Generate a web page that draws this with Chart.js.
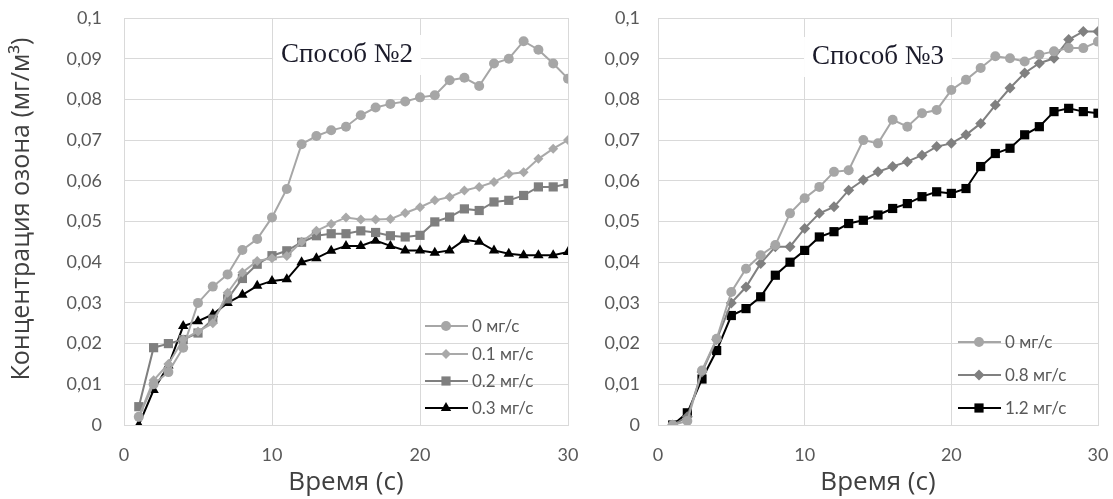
<!DOCTYPE html>
<html>
<head>
<meta charset="utf-8">
<script src="https://cdn.jsdelivr.net/npm/chart.js@4.4.1/dist/chart.umd.min.js"></script>
<style>
body{margin:0;background:#fff;}
#wrap{position:relative;width:1113px;height:499px;overflow:hidden;}
#left{position:absolute;left:0;top:0;}
#right{position:absolute;left:580px;top:0;}
</style>
</head>
<body>
<div id="wrap">
<canvas id="left" width="580" height="499"></canvas>
<canvas id="right" width="533" height="499"></canvas>
</div>
<script>
// time points (s)
const time = [1,2,3,4,5,6,7,8,9,10,11,12,13,14,15,16,17,18,19,20,21,22,23,24,25,26,27,28,29,30]

// Способ №2
const left0 = [0.002,0.010,0.013,0.019,0.030,0.034,0.037,0.043,0.0457,0.051,0.058,0.069,0.071,0.0724,0.0733,0.0761,0.078,0.0789,0.0795,0.0805,0.081,0.0847,0.0853,0.0833,0.0888,0.090,0.0943,0.0922,0.0888,0.0851]
const left1 = [0.002,0.011,0.015,0.021,0.023,0.025,0.0325,0.0375,0.0403,0.041,0.0415,0.045,0.0477,0.0494,0.051,0.0505,0.0505,0.0506,0.0521,0.0535,0.0552,0.056,0.0576,0.0585,0.0597,0.0617,0.0621,0.0654,0.0679,0.070]
const left2 = [0.0045,0.019,0.020,0.021,0.0226,0.026,0.031,0.036,0.0395,0.0416,0.0428,0.0449,0.0465,0.047,0.047,0.0477,0.0473,0.0465,0.0462,0.0466,0.0499,0.0511,0.0531,0.0527,0.0548,0.0552,0.0564,0.0585,0.0585,0.0593]
const left3 = [0,0.0086,0.0146,0.0243,0.0255,0.0272,0.030,0.032,0.0342,0.0354,0.0358,0.040,0.041,0.0428,0.044,0.044,0.0453,0.044,0.0429,0.0429,0.0423,0.0429,0.0455,0.045,0.0429,0.0421,0.0417,0.0417,0.0417,0.0425]

// Способ №3
const right0 = [0,0.001,0.0134,0.0212,0.0327,0.0384,0.0417,0.0442,0.052,0.0557,0.0585,0.0622,0.0626,0.070,0.0692,0.075,0.0733,0.0766,0.0774,0.0823,0.0848,0.0877,0.0906,0.0901,0.0893,0.091,0.0918,0.0926,0.0926,0.0942]
const right1 = [0,0.002,0.013,0.021,0.030,0.0339,0.0397,0.0438,0.0438,0.0483,0.052,0.0536,0.0577,0.0602,0.0622,0.0635,0.0647,0.0663,0.0684,0.0692,0.0713,0.0741,0.0786,0.0828,0.0865,0.0889,0.0901,0.0947,0.0967,0.0967]
const right2 = [0,0.003,0.0113,0.0183,0.0269,0.0286,0.0315,0.0368,0.040,0.0429,0.0462,0.0475,0.0495,0.0503,0.0516,0.0532,0.0544,0.0561,0.0573,0.0569,0.0581,0.0635,0.0667,0.068,0.0713,0.0733,0.077,0.0778,0.077,0.0766]

const leftLabels = ["0 мг/с", "0.1 мг/с", "0.2 мг/с", "0.3 мг/с"]
const rightLabels = ["0 мг/с", "0.8 мг/с", "1.2 мг/с"]
const panelTitles = ["Способ №2", "Способ №3"]

const xTickValues = [0, 10, 20, 30]
const yTickValues = [0, 0.01, 0.02, 0.03, 0.04, 0.05, 0.06, 0.07, 0.08, 0.09, 0.1]
const yTickLabels = ["0", "0,01", "0,02", "0,03", "0,04", "0,05", "0,06", "0,07", "0,08", "0,09", "0,1"]

const xTitle = "Время (с)"
const yTitle = "Концентрация озона (мг/м³)"

const sans = 'Lato, "Open Sans", sans-serif'
const titleSans = '"Open Sans", sans-serif'
const gridColor = "#d9d9d9"
const tickColor = "#595959"


function pts(arr){
  return time.map((t, i) => ({ x: t, y: arr[i] }))
}

function series(label, arr, color, style, radius){
  return {
    label: label,
    data: pts(arr),
    borderColor: color,
    backgroundColor: color,
    pointBackgroundColor: color,
    pointBorderColor: color,
    pointStyle: style,
    pointRadius: radius,
    pointBorderWidth: 0,
    borderWidth: 2,
    tension: 0
  }
}


// legend drawn inside the plot area (canvas coords)
const insideLegend = {
  id: "insideLegend",
  afterDraw(chart, args, opts){
    const ctx = chart.ctx
    chart.data.datasets.forEach((ds, i) => {
      const x = opts.x
      const y = opts.ys[i]
      ctx.save()
      ctx.strokeStyle = ds.borderColor
      ctx.lineWidth = 2
      ctx.beginPath()
      ctx.moveTo(x, y)
      ctx.lineTo(x + 43, y)
      ctx.stroke()
      ctx.fillStyle = ds.pointBackgroundColor
      if(Chart.helpers && Chart.helpers.drawPoint){
        Chart.helpers.drawPoint(ctx, { pointStyle: ds.pointStyle, radius: ds.pointRadius, rotation: 0, borderWidth: 0 }, x + 21, y)
      }else{
        ctx.beginPath(); ctx.arc(x + 21, y, ds.pointRadius, 0, Math.PI * 2); ctx.fill()
      }
      ctx.fillStyle = tickColor
      ctx.font = "17px " + sans
      ctx.textBaseline = "middle"
      ctx.fillText(ds.label, x + 47, y + 1)
      ctx.restore()
    })
  }
}

// "Способ" caption on a white box, plus the rotated y title
const panelText = {
  id: "panelText",
  beforeDatasetsDraw(chart, args, opts){
    const ctx = chart.ctx
    ctx.save()
    ctx.font = '27px "Liberation Serif", serif'
    const w = ctx.measureText(opts.text).width
    ctx.fillStyle = "#fff"
    ctx.fillRect(opts.cx - w / 2 - 8, opts.cy - 20, w + 16, 40)
    ctx.fillStyle = "#1b1b2a"
    ctx.textAlign = "center"
    ctx.textBaseline = "middle"
    ctx.fillText(opts.text, opts.cx, opts.cy)
    ctx.restore()
  },
  afterDraw(chart, args, opts){
    if(!opts.yTitle) return
    const ctx = chart.ctx
    ctx.save()
    ctx.translate(22, 209)
    ctx.rotate(-Math.PI / 2)
    ctx.font = "25px " + titleSans
    ctx.fillStyle = "#404040"
    ctx.textAlign = "center"
    ctx.textBaseline = "middle"
    ctx.fillText(opts.yTitle, 0, 0)
    ctx.restore()
  }
}


function makeChart(canvas, datasets, opt){
  return new Chart(canvas, {
    type: "line",
    data: { datasets: datasets },
    plugins: [panelText, insideLegend],
    options: {
      responsive: false,
      animation: false,
      devicePixelRatio: 1,
      layout: { padding: { left: 0, top: 18, right: opt.padRight, bottom: 0 } },
      plugins: {
        legend: { display: false },
        tooltip: { enabled: false },
        panelText: opt.text,
        insideLegend: opt.legend
      },
      scales: {
        x: {
          type: "linear",
          min: 0,
          max: 30,
          afterBuildTicks: s => { s.ticks = xTickValues.map(v => ({ value: v })) },
          ticks: { color: tickColor, font: { family: sans, size: 18 }, padding: 19, maxRotation: 0 },
          grid: { color: gridColor, drawTicks: false },
          border: { color: gridColor },
          title: { display: true, text: xTitle, color: "#404040", font: { family: titleSans, size: 26 }, padding: { top: 0, bottom: 1 } },
          afterFit: s => { s.height = 74; s.paddingLeft = 0; s.paddingRight = 0 }
        },
        y: {
          min: 0,
          max: 0.1,
          afterBuildTicks: s => { s.ticks = yTickValues.map(v => ({ value: v })) },
          ticks: { color: tickColor, font: { family: sans, size: 18 }, padding: opt.tickPad, callback: (v, i) => yTickLabels[i] },
          grid: { color: gridColor, drawTicks: false },
          border: { color: gridColor },
          afterFit: s => { s.width = opt.axisWidth; s.paddingTop = 0; s.paddingBottom = 0 }
        }
      }
    }
  })
}


makeChart(document.getElementById("left"), [
  series(leftLabels[0], left0, "#a6a6a6", "circle", 5),
  series(leftLabels[1], left1, "#a9a9a9", "rectRot", 5),
  series(leftLabels[2], left2, "#7f7f7f", "rect", 6.5),
  series(leftLabels[3], left3, "#000000", "triangle", 6)
], {
  padRight: 12,
  axisWidth: 124,
  tickPad: 22,
  text: { text: panelTitles[0], cx: 347, cy: 55, yTitle: yTitle },
  legend: { x: 425, ys: [326, 354, 381, 408] }
})

makeChart(document.getElementById("right"), [
  series(rightLabels[0], right0, "#a6a6a6", "circle", 5),
  series(rightLabels[1], right1, "#808080", "rectRot", 5.5),
  series(rightLabels[2], right2, "#000000", "rect", 6.5)
], {
  padRight: 15,
  axisWidth: 78,
  tickPad: 18,
  text: { text: panelTitles[1], cx: 298, cy: 57, yTitle: null },
  legend: { x: 378, ys: [342, 375, 408] }
})
</script>
</body>
</html>
